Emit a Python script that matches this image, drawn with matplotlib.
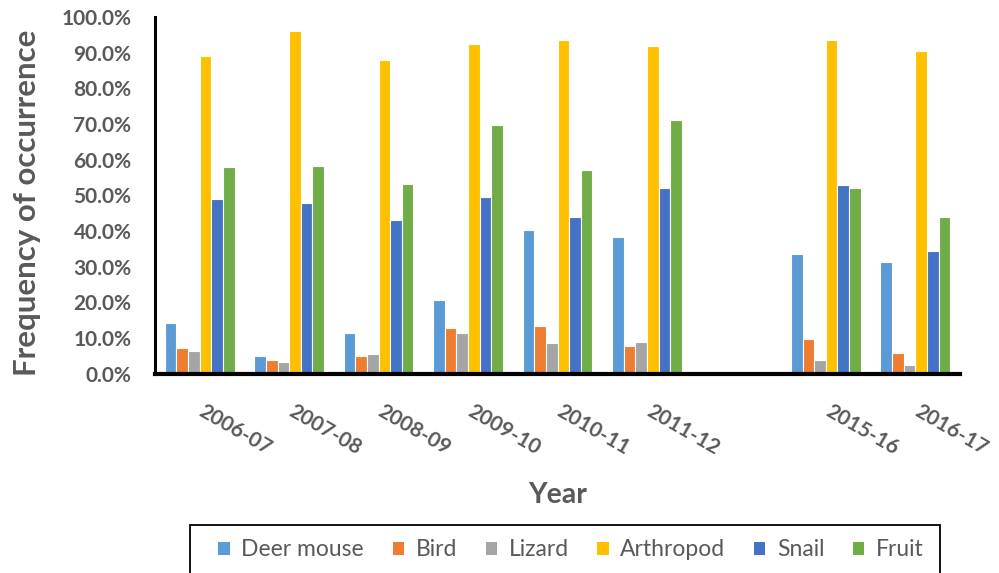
import matplotlib
matplotlib.use("Agg")
import matplotlib.pyplot as plt
from matplotlib.patches import Rectangle
from matplotlib.ticker import PercentFormatter
from matplotlib.transforms import ScaledTranslation
import numpy as np

categories = ["2006-07", "2007-08", "2008-09", "2009-10", "2010-11", "2011-12", "", "2015-16", "2016-17"]
series_names = ["Deer mouse", "Bird", "Lizard", "Arthropod", "Snail", "Fruit"]
deer_mouse = [14.1, 5.0, 11.3, 20.6, 40.3, 38.2, np.nan, 33.5, 31.2]
bird = [7.1, 3.9, 5.0, 12.9, 13.2, 7.8, np.nan, 9.7, 5.8]
lizard = [6.3, 3.1, 5.4, 11.3, 8.6, 8.9, np.nan, 3.9, 2.3]
arthropod = [89.1, 96.2, 87.9, 92.3, 93.5, 91.9, np.nan, 93.5, 90.5]
snail = [48.9, 47.7, 43.0, 49.6, 43.8, 51.9, np.nan, 52.8, 34.4]
fruit = [57.8, 58.3, 53.2, 69.6, 57.0, 71.2, np.nan, 51.9, 43.8]
colors = ["#5B9BD5", "#ED7D31", "#A5A5A5", "#FFC000", "#4472C4", "#70AD47"]

all_series = [deer_mouse, bird, lizard, arthropod, snail, fruit]

FONT = ["Lato", "DejaVu Sans"]
GRAY = "#595959"
plt.rcParams["font.family"] = FONT

W, H = 999, 573
fig = plt.figure(figsize=(W / 100, H / 100), dpi=100)
ax = fig.add_axes([155 / W, 1 - 373.5 / H, (960 - 155) / W, (373.5 - 17) / H])

x = np.arange(len(categories))
slot = 0.13
for k, (vals, c, name) in enumerate(zip(all_series, colors, series_names)):
    v = np.array(vals, dtype=float) / 100.0
    ax.bar(x + (k - 2.5) * slot, v, width=slot, color=c, edgecolor="white",
           linewidth=0.8, label=name, zorder=2)

ax.set_xlim(-0.5, len(categories) - 0.5)
ax.set_ylim(0, 1.0)
ax.set_yticks(np.arange(0, 1.01, 0.1))
ax.yaxis.set_major_formatter(PercentFormatter(1.0, decimals=1))
ax.set_xticks(x)
ax.set_xticklabels(categories)

for s in ["top", "right"]:
    ax.spines[s].set_visible(False)
ax.spines["left"].set_linewidth(2.2)
ax.spines["bottom"].set_linewidth(3.0)
ax.spines["left"].set_zorder(3)
ax.spines["bottom"].set_zorder(3)

ax.tick_params(axis="both", length=0)
ax.tick_params(axis="y", pad=17, labelsize=15, labelcolor=GRAY)
ax.tick_params(axis="x", pad=20, labelsize=15, labelcolor=GRAY)
for t in ax.get_yticklabels():
    t.set_fontweight("bold")
offset = ScaledTranslation(6 / 100, 0, fig.dpi_scale_trans)
for t in ax.get_xticklabels():
    t.set_fontweight("bold")
    t.set_rotation(-30)
    t.set_rotation_mode("anchor")
    t.set_ha("left")
    t.set_va("top")
    t.set_transform(t.get_transform() + offset)

fig.text(558 / W, 1 - 495 / H, "Year", ha="center", va="center",
         fontsize=20.5, fontweight="bold", color=GRAY)
fig.text(27 / W, 1 - 203 / H, "Frequency of occurrence", ha="center", va="center",
         rotation=90, fontsize=22.5, fontweight="bold", color=GRAY)

# legend
handles = [Rectangle((0, 0), 1, 1, facecolor=c, edgecolor="none") for c in colors]
leg = fig.legend(handles, series_names, loc="center", ncol=6,
                 bbox_to_anchor=(571 / W, 1 - 550 / H), frameon=False,
                 fontsize=16.5, handlelength=0.5, handleheight=0.5,
                 handletextpad=0.5, columnspacing=1.25, labelcolor=GRAY)
fig.add_artist(Rectangle((190 / W, 1 - 590 / H), (940 - 190) / W, (590 - 525) / H,
                         transform=fig.transFigure, facecolor="none",
                         edgecolor="black", linewidth=1.3, clip_on=False))

fig.savefig("out.png", dpi=100)
